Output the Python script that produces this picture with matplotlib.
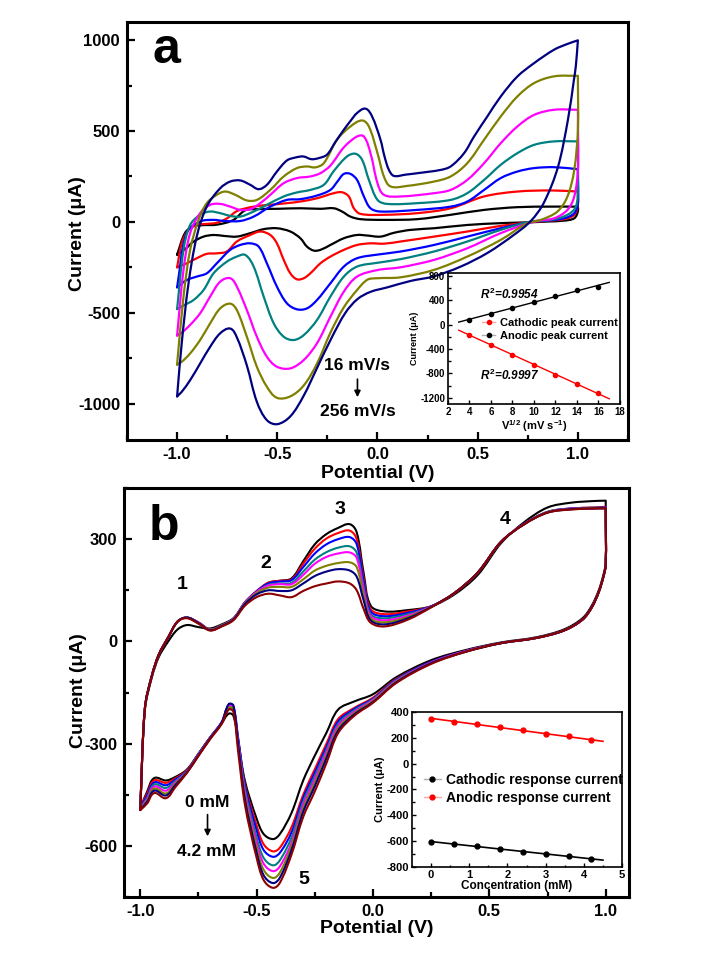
import numpy as np
import matplotlib
matplotlib.use("Agg")
import matplotlib.pyplot as plt
from matplotlib.ticker import MultipleLocator, FormatStrFormatter
from matplotlib.lines import Line2D
from matplotlib.path import Path
from matplotlib.patches import PathPatch

plt.rcParams['font.family'] = ['Liberation Sans', 'DejaVu Sans']
plt.rcParams['font.weight'] = 'bold'
plt.rcParams['axes.unicode_minus'] = False
plt.rcParams['mathtext.fontset'] = 'custom'
plt.rcParams['mathtext.rm'] = 'Liberation Sans:bold'
plt.rcParams['mathtext.it'] = 'Liberation Sans:italic:bold'
plt.rcParams['mathtext.bf'] = 'Liberation Sans:bold'

# ---------------- panel a : CVs at different scan rates ----------------
a_black_v = [-1.0, -0.96, -0.92, -0.87, -0.8, -0.72, -0.66, -0.6, -0.5, -0.385, -0.285, -0.218, -0.177, -0.135,
             -0.085, 0.032, 0.198, 0.365, 0.532, 0.698, 0.865, 1.0,
             1.0, 0.982, 0.932, 0.848, 0.765, 0.615, 0.448, 0.282, 0.165, 0.082, 0.015, -0.052, -0.102, -0.168,
             -0.235, -0.285, -0.318, -0.352, -0.385, -0.435, -0.502, -0.568, -0.635, -0.702, -0.768, -0.818,
             -0.868, -0.92, -0.96, -1.0]
a_black_i = [-180, -60, -25, -18, -15, 10, 64, 70, 72, 75, 72, 75, 57, 29, 15, 11, 15, 39, 66, 81, 84, 84,
             57, 20, 7, 2, -2, -7, -17, -35, -44, -60, -81, -75, -72, -90, -127, -154, -158, -136, -90, -53,
             -35, -40, -62, -81, -77, -72, -81, -110, -150, -180]

a_red_v = [-1.0, -0.977, -0.943, -0.902, -0.852, -0.802, -0.75, -0.7, -0.618, -0.535, -0.452, -0.385, -0.302,
           -0.218, -0.177, -0.143, -0.118, -0.085, 0.032, 0.198, 0.365, 0.532, 0.698, 0.865, 1.0,
           1.0, 0.982, 0.932, 0.848, 0.765, 0.615, 0.448, 0.282, 0.115, 0.032, -0.035, -0.102, -0.168, -0.235,
           -0.285, -0.335, -0.368, -0.402, -0.435, -0.468, -0.502, -0.535, -0.585, -0.635, -0.702, -0.752,
           -0.802, -0.852, -0.902, -0.952, -1.0]
a_red_i = [-250, -118, -44, -17, -11, -5, 20, 60, 84, 94, 103, 112, 130, 158, 163, 140, 75, 44, 39, 48, 75, 140,
           167, 173, 167,
           94, 39, 15, 6, -2, -22, -53, -81, -108, -120, -118, -127, -154, -191, -228, -283, -310, -316, -283,
           -209, -118, -72, -53, -72, -108, -163, -173, -176, -200, -228, -250]

a_blue_v = [-1.0, -0.953, -0.885, -0.818, -0.765, -0.685, -0.618, -0.535, -0.452, -0.385, -0.302, -0.235, -0.2,
            -0.168, -0.135, -0.102, -0.068, -0.035, 0.015, 0.198, 0.365, 0.448, 0.532, 0.615, 0.698, 0.782,
            0.882, 1.0,
            1.0, 0.982, 0.932, 0.848, 0.765, 0.615, 0.448, 0.282, 0.115, 0.0, -0.102, -0.168, -0.235, -0.302,
            -0.352, -0.402, -0.452, -0.502, -0.552, -0.593, -0.635, -0.685, -0.735, -0.802, -0.852, -0.902,
            -0.952, -1.0]
a_blue_i = [-360, -62, 2, 11, 5, 5, 29, 84, 121, 125, 145, 176, 222, 264, 264, 231, 140, 75, 57, 66, 84, 112,
            176, 241, 277, 296, 301, 290,
            103, 48, 20, 7, 0, -35, -81, -127, -163, -180, -200, -246, -338, -430, -476, -481, -448, -356, -228,
            -136, -118, -127, -154, -228, -283, -301, -320, -360]

a_teal_v = [-1.0, -0.968, -0.935, -0.885, -0.835, -0.785, -0.735, -0.685, -0.618, -0.552, -0.468, -0.402,
            -0.335, -0.268, -0.218, -0.152, -0.11, -0.077, -0.043, 0.0, 0.048, 0.198, 0.365, 0.448, 0.532,
            0.615, 0.698, 0.782, 0.882, 1.0,
            1.0, 0.99, 0.948, 0.865, 0.765, 0.615, 0.448, 0.282, 0.115, 0.0, -0.102, -0.168, -0.235, -0.302,
            -0.368, -0.418, -0.468, -0.518, -0.568, -0.618, -0.66, -0.702, -0.752, -0.818, -0.868, -0.918,
            -0.968, -1.0]
a_teal_i = [-480, -154, -17, 39, 57, 48, 33, 29, 57, 94, 140, 162, 176, 204, 280, 360, 375, 342, 231, 121, 99,
            103, 121, 158, 231, 314, 378, 424, 443, 443,
            195, 84, 39, 11, 2, -44, -108, -163, -205, -225, -246, -301, -411, -540, -623, -650, -632, -558,
            -411, -246, -182, -191, -219, -283, -375, -430, -460, -480]

a_magenta_v = [-1.0, -0.968, -0.935, -0.885, -0.835, -0.785, -0.735, -0.685, -0.635, -0.585, -0.535, -0.468,
               -0.402, -0.335, -0.285, -0.235, -0.168, -0.102, -0.068, -0.035, 0.0, 0.032, 0.115, 0.282, 0.365,
               0.448, 0.532, 0.615, 0.698, 0.782, 0.882, 1.0,
               1.0, 0.982, 0.948, 0.882, 0.782, 0.615, 0.448, 0.282, 0.115, 0.0, -0.102, -0.168, -0.235, -0.302,
               -0.368, -0.435, -0.502, -0.552, -0.602, -0.652, -0.702, -0.735, -0.785, -0.835, -0.885, -0.935,
               -0.977, -1.0]
a_magenta_i = [-625, -264, -62, 48, 94, 99, 84, 66, 70, 103, 149, 213, 241, 250, 268, 310, 410, 470, 470, 378,
               213, 149, 140, 158, 176, 231, 323, 433, 525, 589, 617, 617,
               286, 140, 66, 20, 2, -62, -145, -209, -250, -265, -301, -384, -522, -668, -760, -806, -797, -742,
               -632, -485, -356, -310, -329, -411, -503, -567, -610, -625]

a_olive_v = [-1.0, -0.968, -0.935, -0.893, -0.852, -0.802, -0.76, -0.71, -0.652, -0.602, -0.535, -0.468, -0.402,
             -0.352, -0.31, -0.268, -0.202, -0.135, -0.077, -0.043, 0.0, 0.032, 0.065, 0.148, 0.282, 0.365,
             0.448, 0.532, 0.615, 0.698, 0.782, 0.882, 1.0,
             1.0, 0.982, 0.948, 0.898, 0.815, 0.748, 0.615, 0.448, 0.282, 0.115, 0.0, -0.05, -0.102, -0.168,
             -0.235, -0.302, -0.368, -0.435, -0.502, -0.552, -0.602, -0.652, -0.702, -0.735, -0.785, -0.835,
             -0.885, -0.935, -0.977, -1.0]
a_olive_i = [-785, -411, -154, 11, 103, 149, 167, 149, 118, 121, 176, 250, 296, 305, 300, 323, 452, 525, 558,
             525, 378, 250, 195, 198, 222, 250, 323, 452, 580, 690, 764, 801, 804,
             507, 286, 140, 57, 11, -7, -99, -191, -264, -305, -310, -318, -375, -470, -610, -780, -900, -960,
             -968, -907, -797, -632, -485, -450, -476, -558, -650, -724, -770, -785]

a_navy_v = [-1.0, -0.977, -0.943, -0.902, -0.852, -0.785, -0.735, -0.685, -0.635, -0.593, -0.552, -0.502,
            -0.452, -0.41, -0.37, -0.33, -0.293, -0.252, -0.21, -0.168, -0.135, -0.102, -0.06, -0.027, 0.015,
            0.035, 0.057, 0.082, 0.14, 0.2, 0.315, 0.365, 0.432, 0.482, 0.548, 0.615, 0.698, 0.782, 0.882,
            0.95, 1.0,
            0.99, 0.98, 0.95, 0.9, 0.83, 0.765, 0.68, 0.55, 0.415, 0.28, 0.165, 0.05, -0.035, -0.1, -0.16,
            -0.23, -0.3, -0.37, -0.435, -0.5, -0.552, -0.602, -0.652, -0.702, -0.735, -0.785, -0.835, -0.885,
            -0.935, -0.977, -1.0]
a_navy_i = [-960, -668, -338, -81, 84, 185, 222, 228, 204, 180, 204, 277, 338, 354, 360, 345, 351, 370, 440,
            507, 555, 599, 623, 580, 452, 360, 286, 253, 260, 268, 286, 305, 378, 470, 580, 690, 800, 874, 948,
            980, 999,
            860, 780, 560, 300, 105, 5, -72, -170, -246, -300, -325, -360, -385, -425, -500, -640, -800, -960,
            -1070, -1113, -1091, -990, -790, -635, -587, -613, -687, -779, -871, -935, -960]

a_colors = ['#000000', '#ff0000', '#0000ff', '#008080', '#ff00ff', '#808000', '#000080']

# inset a: peak currents vs sqrt(scan rate)
ins_a_x = [4, 6, 8, 10, 12, 14, 16]
ins_a_cathodic = [-165, -325, -501, -656, -821, -975, -1124]
ins_a_anodic = [83, 176, 275, 380, 479, 567, 623]

# ---------------- panel b : CVs at different concentrations ----------------
b_v_up = [-1.0, -0.98, -0.95, -0.92, -0.88, -0.84, -0.8, -0.75, -0.7, -0.65, -0.6, -0.55, -0.5, -0.45, -0.4,
          -0.35, -0.3, -0.25, -0.2, -0.15, -0.1, -0.07, -0.04, -0.01, 0.05, 0.15, 0.25, 0.35, 0.45, 0.55, 0.65,
          0.75, 0.85, 0.95, 1.0]
b_v_down = [1.0, 0.99, 0.97, 0.94, 0.9, 0.82, 0.7, 0.55, 0.4, 0.25, 0.1, 0.0, -0.08, -0.15, -0.2, -0.25, -0.3,
            -0.35, -0.4, -0.43, -0.47, -0.5, -0.55, -0.58, -0.6, -0.62, -0.65, -0.7, -0.75, -0.8, -0.85, -0.89,
            -0.94, -0.97, -1.0]

b_black_up = [-489, -200, -105, -45, 0, 35, 48, 42, 38, 50, 68, 112, 145, 172, 178, 185, 235, 285, 315, 333, 344,
              320, 200, 105, 88, 92, 103, 138, 195, 288, 350, 393, 407, 412, 413]
b_red_up = [-485, -195, -100, -38, 12, 58, 70, 56, 36, 48, 66, 115, 148, 172, 178, 182, 228, 272, 302, 318, 325,
            300, 185, 95, 80, 88, 103, 142, 202, 292, 345, 380, 390, 393, 395]
b_blue_up = [-488, -195, -100, -38, 12, 58, 70, 55, 35, 47, 66, 115, 147, 170, 176, 180, 218, 258, 285, 300, 306,
             285, 175, 88, 74, 84, 103, 142, 202, 292, 345, 380, 390, 392, 393]
b_teal_up = [-490, -195, -100, -38, 12, 58, 70, 55, 35, 47, 66, 114, 145, 166, 170, 172, 205, 240, 262, 275, 279,
             260, 160, 80, 68, 80, 102, 142, 202, 292, 345, 380, 389, 392, 392]
b_magenta_up = [-492, -195, -100, -38, 12, 58, 70, 55, 34, 46, 66, 114, 145, 164, 168, 168, 195, 228, 248, 258,
                261, 245, 150, 75, 62, 76, 102, 142, 202, 292, 345, 379, 389, 391, 392]
b_olive_up = [-493, -195, -100, -38, 12, 58, 70, 54, 34, 46, 65, 112, 142, 158, 160, 160, 182, 208, 222, 230, 232,
              218, 135, 68, 56, 72, 101, 142, 202, 292, 344, 379, 388, 391, 391]
b_navy_up = [-494, -195, -100, -38, 12, 58, 70, 54, 33, 45, 64, 110, 138, 150, 148, 150, 170, 192, 205, 212, 208,
             190, 120, 62, 50, 68, 101, 142, 202, 292, 344, 378, 388, 390, 391]
b_maroon_up = [-495, -195, -100, -38, 12, 58, 68, 52, 32, 44, 62, 105, 130, 140, 135, 130, 148, 162, 170, 176,
               170, 150, 95, 55, 44, 64, 100, 142, 202, 292, 344, 378, 387, 390, 390]

b_black_down = [230, 195, 150, 105, 68, 35, 12, -3, -25, -55, -105, -155, -176, -200, -268, -335, -408, -503,
                -565, -580, -565, -520, -410, -290, -218, -212, -240, -282, -330, -376, -398, -408, -401, -440,
                -489]
b_red_down = [225, 190, 145, 100, 64, 32, 10, -5, -28, -60, -110, -165, -195, -228, -300, -375, -450, -545, -605,
              -616, -595, -540, -420, -285, -200, -196, -238, -282, -330, -378, -402, -415, -408, -446, -485]
b_blue_down = [225, 190, 145, 100, 64, 32, 10, -5, -28, -60, -112, -168, -198, -235, -310, -385, -460, -560,
               -620, -632, -612, -555, -425, -280, -190, -186, -236, -282, -330, -380, -406, -422, -414, -452,
               -488]
b_teal_down = [225, 190, 145, 100, 64, 32, 10, -5, -28, -62, -114, -170, -202, -242, -318, -395, -470, -575,
               -642, -657, -635, -575, -435, -290, -195, -190, -238, -283, -332, -382, -410, -430, -420, -458,
               -490]
b_magenta_down = [225, 190, 145, 100, 64, 32, 10, -5, -28, -62, -116, -172, -206, -248, -325, -405, -480, -590,
                  -660, -674, -652, -590, -445, -295, -193, -188, -238, -284, -333, -383, -414, -438, -426, -462,
                  -492]
b_olive_down = [225, 190, 145, 100, 64, 32, 10, -5, -30, -64, -118, -175, -210, -255, -335, -415, -490, -600,
                -678, -694, -670, -605, -455, -305, -200, -194, -240, -285, -334, -384, -418, -446, -432, -466,
                -493]
b_navy_down = [225, 190, 145, 100, 64, 32, 10, -5, -30, -64, -120, -178, -214, -262, -343, -425, -500, -612,
               -693, -709, -686, -620, -465, -300, -188, -184, -238, -285, -335, -385, -422, -452, -438, -470,
               -494]
b_maroon_down = [225, 190, 145, 100, 64, 32, 10, -5, -30, -66, -122, -180, -218, -269, -357, -440, -515, -625,
                 -708, -723, -700, -635, -480, -320, -206, -200, -242, -287, -336, -386, -428, -460, -445, -475,
                 -495]

b_colors = ['#000000', '#ff0000', '#0000ff', '#008080', '#ff00ff', '#808000', '#000080', '#8b0000']

# inset b: response current vs concentration
ins_b_conc = [0, 0.6, 1.2, 1.8, 2.4, 3.0, 3.6, 4.2]
ins_b_anodic = [348, 325, 306, 280, 258, 232, 211, 180]
ins_b_cathodic = [-603, -621, -641, -662, -683, -701, -717, -735]


def unit(d):
    n = np.hypot(d[0], d[1])
    return d / n if n > 0 else d * 0


def smooth_line(ax, v, i, color, lw):
    # join the read points with a smooth bezier path; the switching potential (+-1 V) keeps its sharp turn
    pts = ax.transData.transform(np.column_stack([v, i]))
    n = len(pts)
    t_in = np.zeros_like(pts)
    t_out = np.zeros_like(pts)
    for k in range(n):
        if k == 0:
            t_in[k] = t_out[k] = unit(pts[1] - pts[0])
            continue
        if k == n - 1:
            t_in[k] = t_out[k] = unit(pts[-1] - pts[-2])
            continue
        a = unit(pts[k] - pts[k - 1])
        b = unit(pts[k + 1] - pts[k])
        if abs(v[k]) >= 0.999 and np.dot(a, b) < 0.3:
            t_in[k], t_out[k] = a, b
        else:
            t_in[k] = t_out[k] = unit(pts[k + 1] - pts[k - 1])
    verts = [pts[0]]
    codes = [Path.MOVETO]
    for k in range(n - 1):
        seg = np.hypot(*(pts[k + 1] - pts[k]))
        verts += [pts[k] + t_out[k] * seg / 3, pts[k + 1] - t_in[k + 1] * seg / 3, pts[k + 1]]
        codes += [Path.CURVE4] * 3
    verts = ax.transData.inverted().transform(np.array(verts))
    ax.add_patch(PathPatch(Path(verts, codes), fill=False, edgecolor=color, lw=lw, joinstyle='round',
                           capstyle='round'))


def style_main(ax):
    for s in ax.spines.values():
        s.set_linewidth(2.2)
    ax.tick_params(which='both', direction='in', top=False, right=False, width=1.6, labelsize=12, pad=5)
    ax.tick_params(which='major', length=5.5)
    ax.tick_params(which='minor', length=3.5)


def style_inset(ax, size):
    for s in ax.spines.values():
        s.set_linewidth(1.2)
    ax.tick_params(which='both', direction='in', top=False, right=False, width=1.0, labelsize=size, pad=2)
    ax.tick_params(which='major', length=3)
    ax.tick_params(which='minor', length=1.8)


fig = plt.figure(figsize=(7.2, 9.6), dpi=100)

# ---- panel a
ax1 = fig.add_axes([0.1764, 0.5417, 0.6958, 0.4354])
ax1.set_xlim(-1.25, 1.25)
ax1.set_ylim(-1200, 1100)
curves_a = [(a_black_v, a_black_i), (a_red_v, a_red_i), (a_blue_v, a_blue_i), (a_teal_v, a_teal_i),
            (a_magenta_v, a_magenta_i), (a_olive_v, a_olive_i), (a_navy_v, a_navy_i)]
for (v, i), c in zip(curves_a, a_colors):
    smooth_line(ax1, v, i, c, 1.6)
ax1.xaxis.set_major_locator(MultipleLocator(0.5))
ax1.xaxis.set_minor_locator(MultipleLocator(0.25))
ax1.xaxis.set_major_formatter(FormatStrFormatter('%.1f'))
ax1.yaxis.set_major_locator(MultipleLocator(500))
ax1.yaxis.set_minor_locator(MultipleLocator(250))
style_main(ax1)
ax1.set_xlabel('Potential (V)', fontsize=14, fontweight='bold')
ax1.set_ylabel('Current (μA)', fontsize=14, fontweight='bold')
ax1.xaxis.set_label_coords(0.5, -0.081)
ax1.yaxis.set_label_coords(-0.098, 0.495)
ax1.xaxis.label.set_va('center')
ax1.yaxis.label.set_va('center')
ax1.text(0.05, 0.902, 'a', transform=ax1.transAxes, fontsize=36, fontweight='bold', va='baseline')
ax1.text(-0.10, -790, '16 mV/s', ha='center', va='center', fontsize=12.5, fontweight='bold')
ax1.annotate('', xy=(-0.10, -980), xytext=(-0.10, -850),
             arrowprops=dict(arrowstyle='-|>', color='black', lw=1.2, mutation_scale=9))
ax1.text(-0.10, -1046, '256 mV/s', ha='center', va='center', fontsize=12.5, fontweight='bold')

# ---- inset a
ia = fig.add_axes([0.6222, 0.5792, 0.2389, 0.1365])
xs = np.array([3, 17])
k, b = np.polyfit(ins_a_x, ins_a_anodic, 1)
ia.plot(xs, k * xs + b, color='black', lw=1.0)
k, b = np.polyfit(ins_a_x, ins_a_cathodic, 1)
ia.plot(xs, k * xs + b, color='#ff0000', lw=1.0)
ia.plot(ins_a_x, ins_a_anodic, 'o', color='black', ms=3)
ia.plot(ins_a_x, ins_a_cathodic, 'o', color='#ff0000', ms=3)
ia.set_xlim(2, 18)
ia.set_ylim(-1300, 850)
ia.set_xticks(range(2, 19, 2))
ia.yaxis.set_major_locator(MultipleLocator(400))
ia.yaxis.set_minor_locator(MultipleLocator(200))
style_inset(ia, 7)
ia.set_xlabel(r'V$^{\mathrm{1/2}}$ (mV s$^{\mathrm{-1}}$)', fontsize=8, fontweight='bold', labelpad=1)
ia.set_ylabel('Current (μA)', fontsize=6.5, fontweight='bold', labelpad=1)
ia.text(5.0, 490, r'$R^{\mathrm{2}}$=0.9954', fontsize=8.5, fontstyle='italic', fontweight='bold', va='center')
ia.text(5.0, -826, r'$R^{\mathrm{2}}$=0.9997', fontsize=8.5, fontstyle='italic', fontweight='bold', va='center')
h_a = [Line2D([], [], color='#f5a8a8', lw=1, marker='o', ms=3, mfc='#ff0000', mec='#ff0000'),
       Line2D([], [], color='#b0b0b0', lw=1, marker='o', ms=3, mfc='black', mec='black')]
ia.legend(h_a, ['Cathodic peak current', 'Anodic peak current'], loc='center left',
          bbox_to_anchor=(0.198, 0.569), frameon=False, fontsize=8, handlelength=1.2, handletextpad=0.4,
          borderpad=0, borderaxespad=0, labelspacing=0.25)

# ---- panel b
ax2 = fig.add_axes([0.1722, 0.0656, 0.7014, 0.4260])
ax2.set_xlim(-1.07, 1.10)
ax2.set_ylim(-750, 450)
ups = [b_black_up, b_red_up, b_blue_up, b_teal_up, b_magenta_up, b_olive_up, b_navy_up, b_maroon_up]
downs = [b_black_down, b_red_down, b_blue_down, b_teal_down, b_magenta_down, b_olive_down, b_navy_down,
         b_maroon_down]
for up, dn, c in zip(ups, downs, b_colors):
    smooth_line(ax2, b_v_up + b_v_down, up + dn, c, 1.5)
ax2.xaxis.set_major_locator(MultipleLocator(0.5))
ax2.xaxis.set_minor_locator(MultipleLocator(0.25))
ax2.xaxis.set_major_formatter(FormatStrFormatter('%.1f'))
ax2.yaxis.set_major_locator(MultipleLocator(300))
ax2.yaxis.set_minor_locator(MultipleLocator(150))
style_main(ax2)
ax2.set_xlabel('Potential (V)', fontsize=14, fontweight='bold')
ax2.set_ylabel('Current (μA)', fontsize=14, fontweight='bold')
ax2.xaxis.set_label_coords(0.5, -0.076)
ax2.yaxis.set_label_coords(-0.091, 0.506)
ax2.xaxis.label.set_va('center')
ax2.yaxis.label.set_va('center')
ax2.text(0.048, 0.873, 'b', transform=ax2.transAxes, fontsize=36, fontweight='bold', va='baseline')
for lab, (px, py) in zip(['1', '2', '3', '4', '5'],
                         [(-0.819, 166), (-0.462, 230), (-0.142, 388), (0.568, 359), (-0.299, -699)]):
    ax2.text(px, py, lab, ha='center', va='center', fontsize=14, fontweight='bold')
ax2.text(-0.711, -474, '0 mM', ha='center', va='center', fontsize=12.5, fontweight='bold')
ax2.annotate('', xy=(-0.711, -580), xytext=(-0.711, -500),
             arrowprops=dict(arrowstyle='-|>', color='black', lw=1.2, mutation_scale=9))
ax2.text(-0.715, -616, '4.2 mM', ha='center', va='center', fontsize=12.5, fontweight='bold')

# ---- inset b
ib = fig.add_axes([0.5722, 0.0969, 0.2917, 0.1615])
xs = np.array([0, 4.5])
k, b = np.polyfit(ins_b_conc, ins_b_anodic, 1)
ib.plot(xs, k * xs + b, color='#ff0000', lw=1.2)
k, b = np.polyfit(ins_b_conc, ins_b_cathodic, 1)
ib.plot(xs, k * xs + b, color='black', lw=1.2)
ib.plot(ins_b_conc, ins_b_anodic, 'o', color='#ff0000', ms=3.5)
ib.plot(ins_b_conc, ins_b_cathodic, 'o', color='black', ms=3.5)
ib.set_xlim(-0.5, 5)
ib.set_ylim(-800, 400)
ib.xaxis.set_major_locator(MultipleLocator(1))
ib.xaxis.set_minor_locator(MultipleLocator(0.5))
ib.yaxis.set_major_locator(MultipleLocator(200))
ib.yaxis.set_minor_locator(MultipleLocator(100))
style_inset(ib, 8)
ib.set_xlabel('Concentration (mM)', fontsize=8.5, fontweight='bold', labelpad=0)
ib.set_ylabel('Current (μA)', fontsize=8, fontweight='bold', labelpad=1)
h_b = [Line2D([], [], color='#b0b0b0', lw=1, marker='o', ms=3.5, mfc='black', mec='black'),
       Line2D([], [], color='#f5a8a8', lw=1, marker='o', ms=3.5, mfc='#ff0000', mec='#ff0000')]
ib.legend(h_b, ['Cathodic response current', 'Anodic response current'], loc='center left',
          bbox_to_anchor=(0.057, 0.504), frameon=False, fontsize=10, handlelength=1.2, handletextpad=0.4,
          borderpad=0, borderaxespad=0, labelspacing=0.3)

fig.savefig('out.png', dpi=100)
